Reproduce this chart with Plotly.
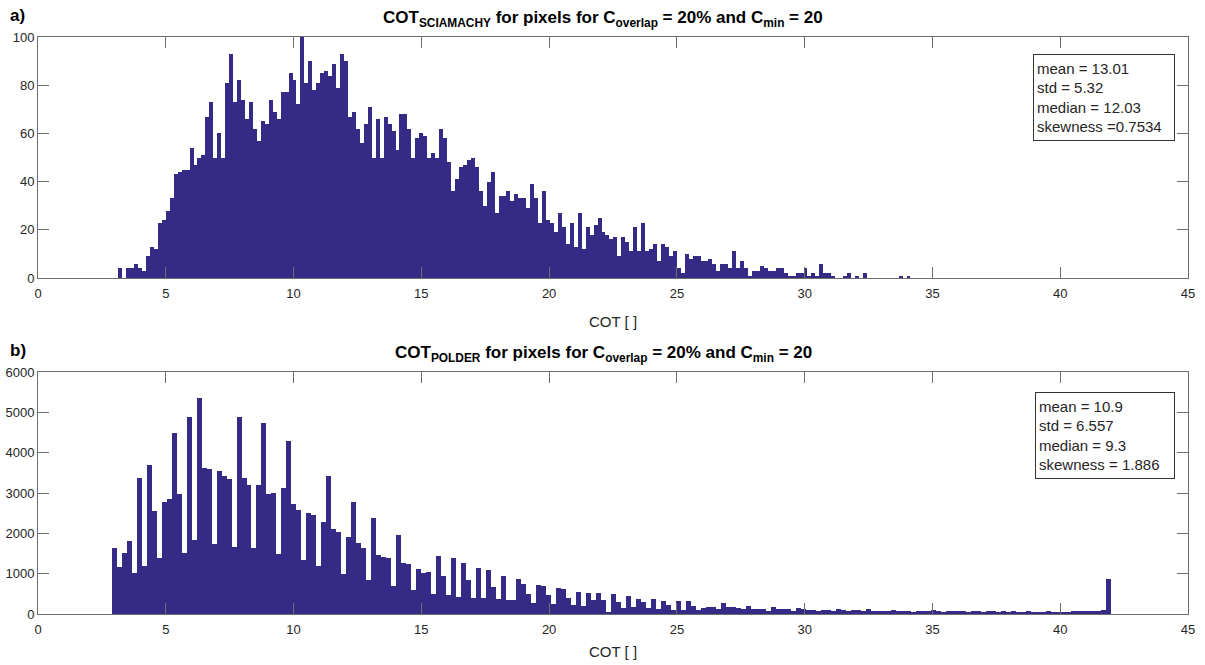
import plotly.graph_objects as go

# ---------------- data ----------------
top_first_edge = 3.14
top_bin_width = 0.155
top_counts = [
    4, 0, 4, 4, 6, 4, 3, 9, 13, 12,
    23, 24, 28, 33, 43, 44, 45, 45, 54, 47,
    50, 51, 67, 73, 50, 60, 50, 81, 93, 73,
    82, 74, 66, 73, 62, 57, 65, 64, 74, 69,
    66, 77, 77, 85, 82, 72, 100, 81, 90, 78,
    81, 85, 86, 84, 89, 79, 93, 90, 67, 69,
    62, 56, 64, 71, 50, 66, 50, 67, 64, 61,
    53, 68, 68, 62, 50, 58, 60, 59, 50, 52,
    50, 62, 58, 48, 36, 41, 46, 47, 49, 50,
    46, 36, 30, 40, 44, 27, 34, 34, 36, 32,
    35, 33, 33, 29, 39, 33, 23, 36, 24, 23,
    19, 27, 21, 14, 23, 13, 27, 12, 21, 18,
    22, 25, 19, 18, 16, 17, 9, 17, 15, 11,
    21, 11, 23, 11, 12, 14, 7, 14, 13, 9,
    11, 4, 2, 10, 8, 9, 9, 7, 7, 8,
    6, 3, 6, 6, 4, 11, 4, 7, 4, 1,
    3, 3, 5, 4, 3, 3, 4, 4, 2, 1,
    1, 2, 2, 4, 1, 2, 1, 6, 2, 2,
    1, 0, 0, 1, 2, 0, 1, 0, 2, 0,
    0, 0, 0, 0, 0, 0, 0, 1, 0, 1,
]

bot_first_edge = 2.88
bot_bin_width = 0.1955
bot_counts = [
    1628, 1157, 1504, 1818, 1025, 3364, 1190, 3694, 2562, 1380,
    2769, 2843, 4480, 2967, 1504, 4876, 1835, 5347, 3612, 3587,
    1736, 3546, 3422, 3339, 1653, 4893, 3364, 3199, 1628, 3199,
    4728, 2975, 2992, 1479, 3116, 4281, 2727, 2579, 1339, 2496,
    2446, 1198, 2289, 3422, 2099, 2041, 984, 1901, 2785, 1752,
    1645, 843, 2372, 1463, 1422, 1380, 703, 1959, 1256, 1231,
    595, 1116, 1008, 1033, 496, 1446, 950, 463, 1380, 430,
    1256, 843, 388, 1132, 397, 1099, 669, 372, 934, 339,
    339, 868, 752, 496, 273, 727, 703, 479, 256, 636,
    620, 388, 215, 537, 207, 521, 355, 521, 339, 25,
    496, 306, 157, 455, 174, 380, 289, 149, 372, 124,
    314, 231, 107, 331, 107, 314, 190, 107, 150, 165,
    165, 116, 264, 182, 182, 140, 116, 198, 124, 124,
    116, 83, 182, 116, 116, 116, 83, 149, 116, 99,
    90, 83, 99, 90, 83, 124, 90, 83, 99, 90,
    83, 116, 83, 75, 83, 75, 99, 66, 75, 66,
    58, 66, 75, 66, 90, 66, 58, 66, 75, 83,
    66, 58, 66, 75, 58, 66, 75, 58, 66, 58,
    66, 50, 58, 66, 58, 50, 58, 66, 50, 58,
    50, 58, 66, 75, 66, 83, 75, 83, 107, 868,
]

top_stats = ["mean = 13.01", "std = 5.32", "median = 12.03", "skewness =0.7534"]
bot_stats = ["mean = 10.9", "std = 6.557", "median = 9.3", "skewness = 1.886"]

x_ticks = [0, 5, 10, 15, 20, 25, 30, 35, 40, 45]
top_y_ticks = [0, 20, 40, 60, 80, 100]
bot_y_ticks = [0, 1000, 2000, 3000, 4000, 5000, 6000]

# ---------------- figure ----------------
BAR = "#352a86"
AX = "#6e6e6e"
TXT = "#262626"
FONT = "Liberation Sans, Arial, sans-serif"

def centers(first, w, n):
    return [first + (i + 0.5) * w for i in range(n)]

fig = go.Figure()
fig.add_trace(go.Bar(
    x=centers(top_first_edge, top_bin_width, len(top_counts)), y=top_counts,
    width=top_bin_width, marker=dict(color=BAR, line=dict(width=0)),
    xaxis="x", yaxis="y", showlegend=False, hoverinfo="skip"))
fig.add_trace(go.Bar(
    x=centers(bot_first_edge, bot_bin_width, len(bot_counts)), y=bot_counts,
    width=bot_bin_width, marker=dict(color=BAR, line=dict(width=0)),
    xaxis="x2", yaxis="y2", showlegend=False, hoverinfo="skip"))

# pixel helpers for paper coordinates
L, R, T, B = 38, 1188, 37, 614
def px(p):
    return (p - L) / (R - L)
def py(p):
    return (B - p) / (B - T)

axis_common = dict(showline=True, mirror="ticks", linecolor=AX, linewidth=1,
                   ticks="inside", ticklen=11, tickcolor=AX, tickwidth=1,
                   showgrid=False, zeroline=False, automargin=False,
                   tickfont=dict(family=FONT, size=13, color=TXT))

fig.update_layout(
    width=1205, height=665,
    margin=dict(l=L, r=1205 - R, t=T, b=665 - B, autoexpand=False),
    paper_bgcolor="white", plot_bgcolor="white",
    bargap=0,
    font=dict(family=FONT, color=TXT),
    xaxis=dict(domain=[0, 1], range=[0, 45], tickvals=x_ticks, anchor="y",
               ticklabelstandoff=3, **axis_common),
    yaxis=dict(domain=[py(278), 1], range=[0, 100], tickvals=top_y_ticks, anchor="x", **axis_common),
    xaxis2=dict(domain=[0, 1], range=[0, 45], tickvals=x_ticks, anchor="y2",
                ticklabelstandoff=3, **axis_common),
    yaxis2=dict(domain=[0, py(372)], range=[0, 6000], tickvals=bot_y_ticks, anchor="x2", **axis_common),
)

ann = []
# panel labels
ann.append(dict(text="<b>a)</b>", x=px(8), y=py(15), xref="paper", yref="paper",
                xanchor="left", yanchor="middle", showarrow=False,
                font=dict(family=FONT, size=17, color="black")))
ann.append(dict(text="<b>b)</b>", x=px(8), y=py(350), xref="paper", yref="paper",
                xanchor="left", yanchor="middle", showarrow=False,
                font=dict(family=FONT, size=17, color="black")))
# titles
ann.append(dict(text="<b>COT<sub>SCIAMACHY</sub> for pixels for C<sub>overlap</sub> = 20% and C<sub>min</sub> = 20</b>",
                x=px(603), y=py(19), xref="paper", yref="paper",
                xanchor="center", yanchor="middle", showarrow=False,
                font=dict(family=FONT, size=17, color="black")))
ann.append(dict(text="<b>COT<sub>POLDER</sub> for pixels for C<sub>overlap</sub> = 20% and C<sub>min</sub> = 20</b>",
                x=px(603), y=py(354), xref="paper", yref="paper",
                xanchor="center", yanchor="middle", showarrow=False,
                font=dict(family=FONT, size=17, color="black")))
# x axis titles
ann.append(dict(text="COT [ ]", x=px(613), y=py(321), xref="paper", yref="paper",
                xanchor="center", yanchor="middle", showarrow=False,
                font=dict(family=FONT, size=15, color=TXT)))
ann.append(dict(text="COT [ ]", x=px(613), y=py(652), xref="paper", yref="paper",
                xanchor="center", yanchor="middle", showarrow=False,
                font=dict(family=FONT, size=15, color=TXT)))
# stats boxes
ann.append(dict(text="<br>".join(top_stats), x=px(1033), y=py(54), xref="paper", yref="paper",
                xanchor="left", yanchor="top", align="left", valign="middle", showarrow=False,
                width=134, height=79, borderpad=3, bordercolor="#333333", borderwidth=1,
                bgcolor="white", font=dict(family=FONT, size=15, color=TXT)))
ann.append(dict(text="<br>".join(bot_stats), x=px(1035), y=py(392), xref="paper", yref="paper",
                xanchor="left", yanchor="top", align="left", valign="middle", showarrow=False,
                width=132, height=79, borderpad=3, bordercolor="#333333", borderwidth=1,
                bgcolor="white", font=dict(family=FONT, size=15, color=TXT)))
fig.update_layout(annotations=ann)

fig.write_html("out.html", config={"displayModeBar": False},
               post_script="document.body.style.margin='0';document.body.style.overflow='hidden';")
